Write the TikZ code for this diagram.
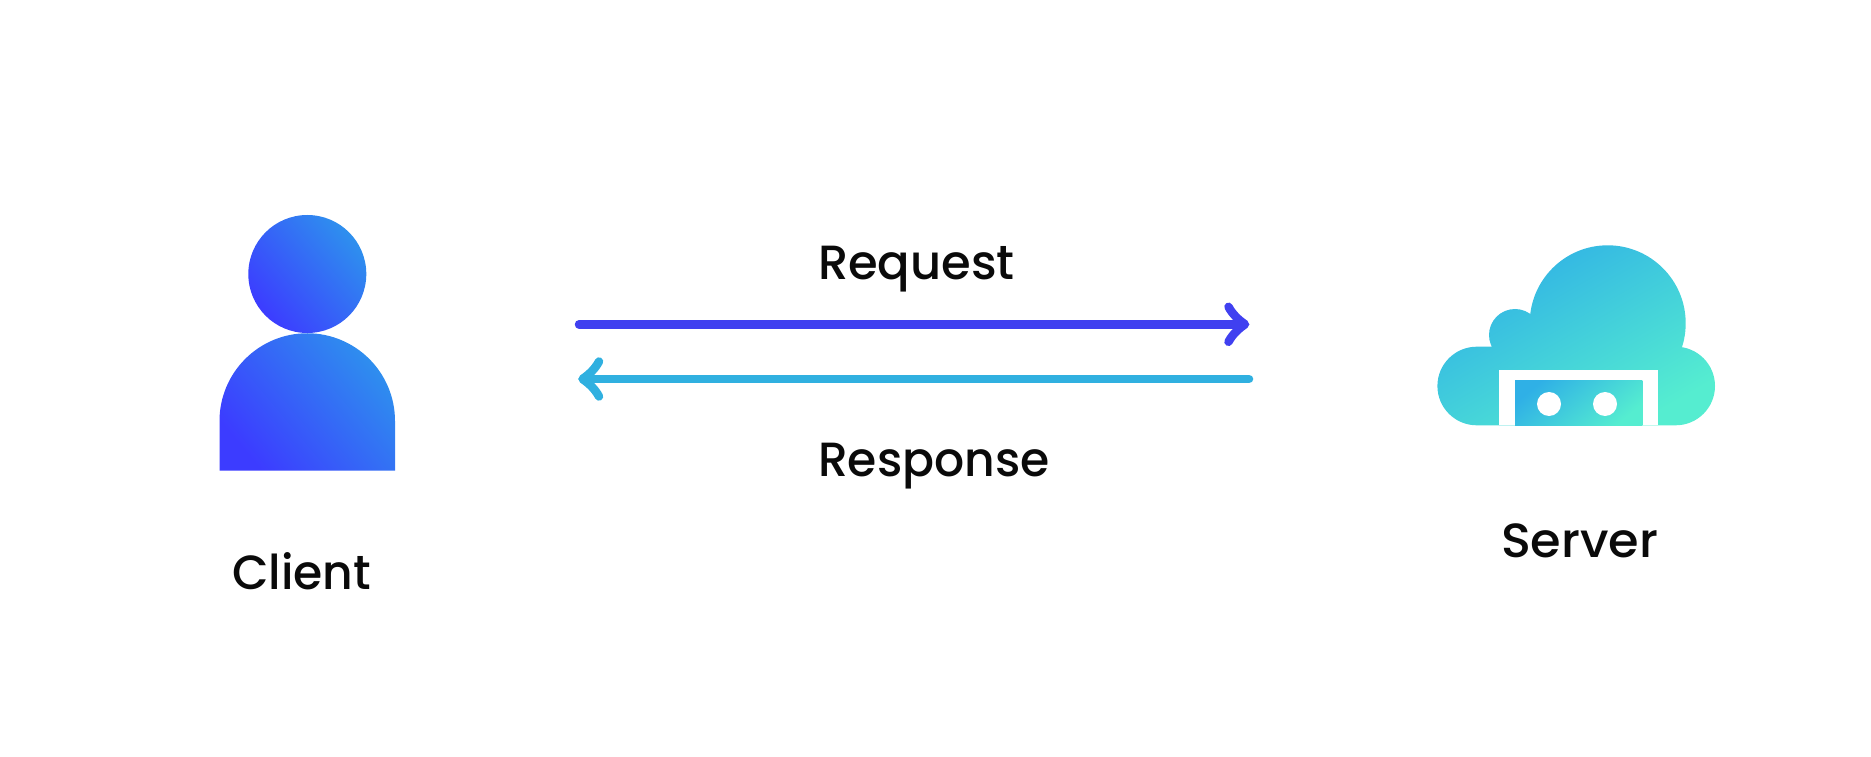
\documentclass[tikz,border=0pt]{standalone}
\usepackage{fontspec}
\newfontfamily\labelfont{Poppins Medium}
\setmainfont{Poppins}
\usetikzlibrary{arrows.meta}
\definecolor{reqblue}{HTML}{4040F0}
\definecolor{resteal}{HTML}{30B0E0}
\definecolor{personA}{HTML}{3C3CFF}
\definecolor{personB}{HTML}{2E90EE}
\definecolor{cloudA}{HTML}{2FB0E6}
\definecolor{cloudB}{HTML}{55EDD0}
\definecolor{ink}{HTML}{0A0A0A}
\pgfdeclarearrow{
  name=curvedbarb,
  setup code={
    \pgfarrowssettipend{0pt}
    \pgfarrowssetlineend{-6pt}
    \pgfarrowssetvisualbackend{-22pt}
    \pgfarrowssetbackend{-22pt}
    \pgfarrowshullpoint{0pt}{0pt}
    \pgfarrowshullpoint{-26pt}{23pt}
    \pgfarrowshullpoint{-26pt}{-23pt}
  },
  drawing code={
    \pgfsetlinewidth{8.5pt}
    \pgfsetroundcap
    \pgfsetroundjoin
    \pgfsetdash{}{0pt}
    \pgfpathmoveto{\pgfqpoint{-21pt}{-17.5pt}}
    \pgfpathcurveto{\pgfqpoint{-17pt}{-10pt}}{\pgfqpoint{-11pt}{-4.5pt}}{\pgfqpoint{-4.5pt}{0pt}}
    \pgfpathcurveto{\pgfqpoint{-11pt}{4.5pt}}{\pgfqpoint{-17pt}{10pt}}{\pgfqpoint{-21pt}{17.5pt}}
    \pgfusepathqstroke
    \pgfpathmoveto{\pgfqpoint{0pt}{0pt}}
    \pgfpathlineto{\pgfqpoint{-11pt}{7pt}}
    \pgfpathlineto{\pgfqpoint{-11pt}{-7pt}}
    \pgfpathclose
    \pgfusepathqfill
  }
}
\tikzset{
  x=1pt,y=1pt,
  label text/.style={font=\labelfont\fontsize{48}{48}\selectfont,text=ink,anchor=base west,inner sep=0pt,outer sep=0pt,transform shape},
  flow/.style={line width=8.5pt,line cap=round,-{curvedbarb}},
  person shade/.style={left color=personA,right color=personB,shading angle=130},
  cloud shade/.style={left color=cloudA,right color=cloudB,shading angle=30},
}
\begin{document}
\begin{tikzpicture}
\useasboundingbox (0,0) rectangle (1871,756);
% client
\shade[person shade] (307.3,482) circle[radius=59];
\shade[person shade] (219.5,285.3) -- (395,285.3) -- (395,335) arc[start angle=0,end angle=180,radius=87.75] -- cycle;
% server cloud
\shade[cloud shade]
  (1476.7,370) circle[radius=39.3]
  (1675.7,370) circle[radius=39.3]
  (1607.7,432.7) circle[radius=78]
  (1515,421) circle[radius=26]
  (1476.7,330.7) -- (1675.7,330.7) -- (1675.7,409.3) -- (1476.7,409.3) -- cycle
  (1520,370) -- (1670,370) -- (1670,440) -- (1520,440) -- cycle;
\fill[white] (1499.3,330.7) rectangle (1658.3,386);
\shade[left color=cloudA,right color=cloudB,shading angle=40] (1515,330.7) rectangle (1642.3,375.3);
\fill[white] (1549,352) circle[radius=12] (1605,352) circle[radius=12];
% labels
\node[label text,xscale=0.985] (client) at (232,167) {Client};
\node[label text,xscale=1.03] (server) at (1501,199) {Server};
\node[label text,xscale=1.0] (request) at (818,476) {Request};
\node[label text,xscale=0.985] (response) at (818,279.3) {Response};
% connectors
\coordinate (reqStart) at (579,431.7);
\coordinate (reqEnd) at (1249.5,431.7);
\coordinate (resStart) at (1249,377);
\coordinate (resEnd) at (578,377);
\draw[flow,reqblue] (reqStart) -- (reqEnd);
\draw[flow,resteal] (resStart) -- (resEnd);
\end{tikzpicture}
\end{document}
